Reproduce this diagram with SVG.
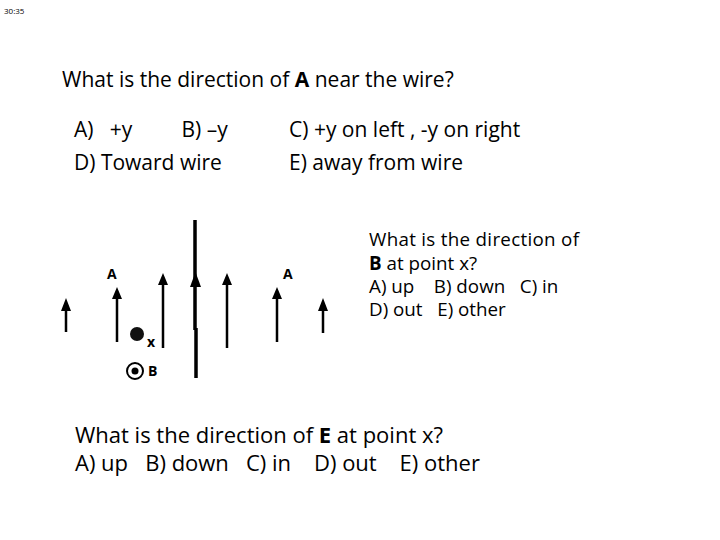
<svg xmlns="http://www.w3.org/2000/svg" width="720" height="540" viewBox="0 0 720 540" xml:space="preserve">
<style>
text{font-family:"Open Sans","Noto Sans","Liberation Sans",sans-serif;fill:#000;white-space:pre}
.q{font-size:21px}
.b{font-size:22px}
.s{font-size:18.8px}
.l{font-size:14px;font-weight:bold}
.a{stroke:#000;stroke-width:2.5;fill:none}
.hd{fill:#000}
</style>
<rect width="720" height="540" fill="#fff"/>
<text x="4" y="14" font-size="8">30:35</text>
<text class="q" x="62" y="87">What is the direction of <tspan font-weight="bold">A</tspan> near the wire?</text>
<text class="q" x="74" y="137">A)   +y         B) –y</text>
<text class="q" x="289" y="137">C) +y on left , -y on right</text>
<text class="q" x="74" y="170">D) Toward wire</text>
<text class="q" x="289" y="170">E) away from wire</text>
<text class="s" x="369" y="246" textLength="210">What is the direction of</text>
<text class="s" x="369" y="270"><tspan font-weight="bold">B</tspan> at point x?</text>
<text class="s" x="369" y="293">A) up    B) down   C) in</text>
<text class="s" x="369" y="316">D) out   E) other</text>
<text class="b" x="75" y="443">What is the direction of <tspan font-weight="bold">E</tspan> at point x?</text>
<text class="b" x="75" y="471">A) up   B) down   C) in    D) out    E) other</text>
<g id="wire"><path d="M195,220V330M196,328V378" stroke="#000" stroke-width="3.5"/><path d="M190,287L195.5,272L201,287Z" fill="#000"/></g>
<g id="arrows">
<path class="a" d="M66,332V310M117,342V298M163,348V284M227,348V284M277,342V298M323,333V310"/>
<path class="hd" d="M61,311L66,298L71,311ZM112,299L117,287L122,299ZM158,285L163,273L168,285ZM222,285L227,273L232,285ZM272,299L277,287L282,299ZM318,311L323,298L328,311Z"/>
</g>
<g id="labels">
<text class="l" x="107" y="279">A</text>
<text class="l" x="283" y="279">A</text>
<circle cx="137" cy="334" r="7" fill="#111"/>
<text class="l" x="147" y="347" font-size="12">x</text>
<circle cx="135" cy="371" r="8" fill="none" stroke="#000" stroke-width="2"/>
<circle cx="135" cy="371" r="3.5" fill="#000"/>
<text class="l" x="148" y="376">B</text>
</g>
</svg>
